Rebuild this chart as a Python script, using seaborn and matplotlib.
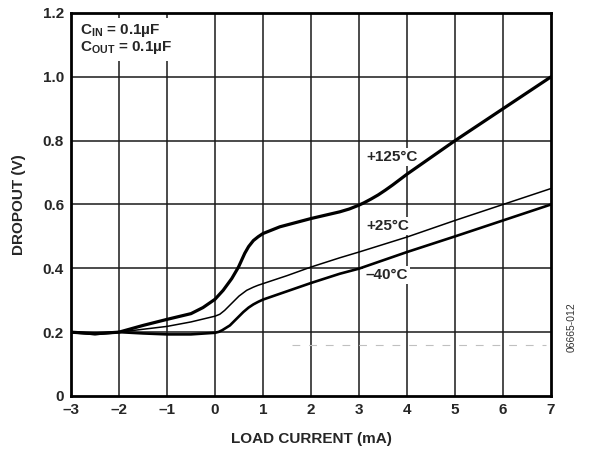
import seaborn as sns
import matplotlib.pyplot as plt

# load current (mA) and dropout (V)
x_125 = [-3, -2.5, -2, -1.5, -1, -0.5, -0.25, 0, 0.17, 0.35, 0.49, 0.62, 0.7, 0.8, 0.9, 1.0,
         1.35, 2, 2.6, 2.8, 3, 3.1, 3.25, 3.4, 3.55, 3.7, 4, 5, 6, 7]
y_125 = [0.20, 0.195, 0.20, 0.221, 0.240, 0.258, 0.277, 0.303, 0.331, 0.368, 0.404, 0.447,
         0.468, 0.487, 0.499, 0.509, 0.530, 0.556, 0.577, 0.586, 0.598, 0.605, 0.617, 0.630,
         0.645, 0.661, 0.695, 0.80, 0.90, 1.00]

x_25 = [-3, -2.5, -2, -1.5, -1, -0.5, 0, 0.1, 0.2, 0.38, 0.5, 0.66, 0.8, 0.9, 1.0, 1.5, 2,
        2.6, 3, 4, 5, 6, 7]
y_25 = [0.20, 0.196, 0.20, 0.209, 0.218, 0.232, 0.250, 0.256, 0.268, 0.295, 0.313, 0.331,
        0.341, 0.347, 0.352, 0.377, 0.404, 0.433, 0.451, 0.498, 0.550, 0.600, 0.650]

x_m40 = [-3, -2.5, -2, -1.5, -1, -0.5, 0, 0.08, 0.15, 0.31, 0.45, 0.59, 0.7, 0.8, 0.9, 1.0,
         1.5, 2, 2.6, 3, 4, 5, 6, 7]
y_m40 = [0.20, 0.194, 0.20, 0.196, 0.193, 0.193, 0.198, 0.201, 0.206, 0.221, 0.242, 0.263,
         0.277, 0.287, 0.295, 0.302, 0.328, 0.354, 0.383, 0.399, 0.451, 0.500, 0.550, 0.600]

x_dash = [1.6, 6.9]
y_dash = [0.16, 0.16]

x_ticks = [-3, -2, -1, 0, 1, 2, 3, 4, 5, 6, 7]
x_ticklabels = ["–3", "–2", "–1", "0", "1", "2", "3", "4", "5", "6", "7"]
y_ticks = [0, 0.2, 0.4, 0.6, 0.8, 1.0, 1.2]
y_ticklabels = ["0", "0.2", "0.4", "0.6", "0.8", "1.0", "1.2"]

sns.set_style("white")
plt.rcParams["font.family"] = ["Liberation Sans", "DejaVu Sans"]
plt.rcParams["font.weight"] = "bold"
plt.rcParams["mathtext.fontset"] = "custom"
plt.rcParams["mathtext.rm"] = "Liberation Sans:bold"
plt.rcParams["mathtext.bf"] = "Liberation Sans:bold"
plt.rcParams["mathtext.it"] = "Liberation Sans:bold"

fig = plt.figure(figsize=(5.89, 4.54), dpi=100)
ax = fig.add_axes([0.1205, 0.1278, 0.815, 0.8436])

for x in x_ticks[1:-1]:
    ax.axvline(x, color="#1a1a1a", lw=1.1, zorder=1)
for y in y_ticks[1:-1]:
    ax.axhline(y, color="#1a1a1a", lw=1.1, zorder=1)

sns.lineplot(x=x_dash, y=y_dash, ax=ax, color="#c0c0c0", lw=0.8,
             linestyle=(0, (7, 8)), zorder=2)
sns.lineplot(x=x_125, y=y_125, ax=ax, color="black", lw=2.3, estimator=None, sort=False, zorder=3)
sns.lineplot(x=x_25, y=y_25, ax=ax, color="black", lw=1.1, estimator=None, sort=False, zorder=3)
sns.lineplot(x=x_m40, y=y_m40, ax=ax, color="black", lw=1.9, estimator=None, sort=False, zorder=3)

# labels hide the grid behind them but stay under the curves
box = dict(facecolor="white", edgecolor="none", pad=1.5)
ax.text(3.69, 0.749, "+125°C", ha="center", va="center", fontsize=11, fontweight="bold", bbox=box, zorder=2.5)
ax.text(3.59, 0.533, "+25°C", ha="center", va="center", fontsize=11, fontweight="bold", bbox=box, zorder=2.5)
ax.text(3.58, 0.380, "–40°C", ha="center", va="center", fontsize=11, fontweight="bold", bbox=box, zorder=2.5)
ax.text(-2.81, 1.118, r"$\mathbf{C_{IN}}$ = 0.1µF" + "\n" + r"$\mathbf{C_{OUT}}$ = 0.1µF",
        ha="left", va="center", fontsize=11, fontweight="bold", linespacing=1.05,
        bbox=dict(facecolor="white", edgecolor="none", pad=3), zorder=4)

ax.set_xlim(-3, 7)
ax.set_ylim(0, 1.2)
ax.set_xticks(x_ticks)
ax.set_xticklabels(x_ticklabels, fontsize=11, fontweight="bold")
ax.set_yticks(y_ticks)
ax.set_yticklabels(y_ticklabels, fontsize=11, fontweight="bold")
ax.tick_params(length=0, pad=5)
ax.set_xlabel("LOAD CURRENT (mA)", fontsize=11, fontweight="bold", labelpad=11)
ax.set_ylabel("DROPOUT (V)", fontsize=11, fontweight="bold", labelpad=12)
for s in ax.spines.values():
    s.set_color("black")
    s.set_linewidth(2.0)

fig.text(0.970, 0.28, "06665-012", rotation=90, ha="center", va="center",
         fontsize=7.5, color="#333333", fontweight="normal")

fig.savefig("out.png", dpi=100)
